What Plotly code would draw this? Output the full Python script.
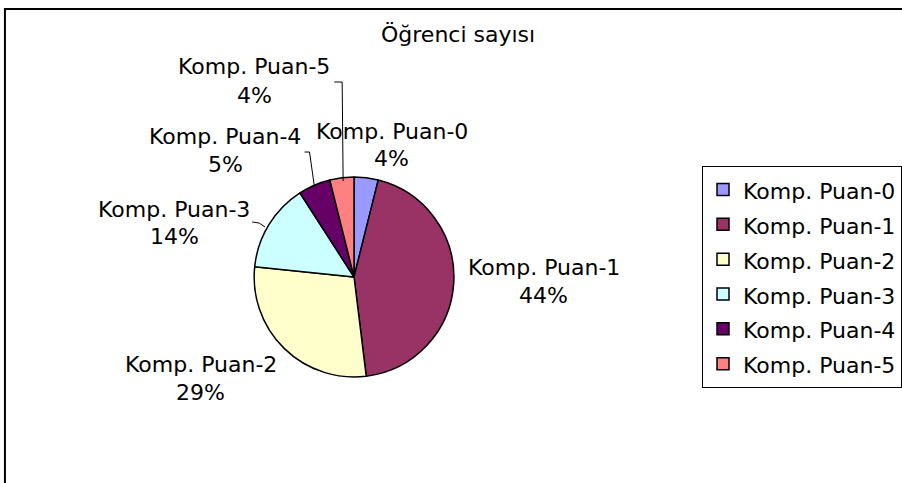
import plotly.graph_objects as go

categories = ["Komp. Puan-0", "Komp. Puan-1", "Komp. Puan-2",
              "Komp. Puan-3", "Komp. Puan-4", "Komp. Puan-5"]
counts = [3, 34, 22, 11, 4, 3]
colors = ["#9999FF", "#993366", "#FFFFCC", "#CCFFFF", "#660066", "#FF8080"]
title_text = "Öğrenci sayısı"

W, H = 902, 483
FONT = "DejaVu Sans"
FS = 22


def px(x):
    return x / W


def py(y):
    return 1 - y / H


legend_labels = [f'<span style="font-size:{FS}px">{c}</span>' for c in categories]

fig = go.Figure()
fig.add_trace(go.Pie(
    labels=legend_labels,
    values=counts,
    sort=False,
    direction="clockwise",
    rotation=0,
    marker=dict(colors=colors, line=dict(color="black", width=1.5)),
    textinfo="none",
    hoverinfo="label+percent",
    domain=dict(x=[px(257), px(459)], y=[py(378), py(176)]),
    showlegend=True,
))

# label positions (pixel centres of name line / percent line)
label_pos = [
    (396, 131, 158),
    (550, 267, 295),
    (203, 364, 392),
    (176, 209, 237),
    (228, 136, 164),
    (257, 66, 95),
]
total = sum(counts)
annotations = []
for name, v, (lx, ly1, ly2) in zip(categories, counts, label_pos):
    pct = f"{round(v / total * 100)}%"
    annotations.append(dict(x=px(lx), y=py(ly1), xref="paper", yref="paper",
                            text=name, showarrow=False, xanchor="center",
                            yanchor="middle", font=dict(family=FONT, size=FS, color="black")))
    annotations.append(dict(x=px(lx), y=py(ly2), xref="paper", yref="paper",
                            text=pct, showarrow=False, xanchor="center",
                            yanchor="middle", font=dict(family=FONT, size=FS, color="black")))
annotations.append(dict(x=px(463), y=py(35), xref="paper", yref="paper",
                        text=title_text, showarrow=False, xanchor="center",
                        yanchor="middle", font=dict(family=FONT, size=FS, color="black")))

shapes = [
    # chart border
    dict(type="rect", xref="paper", yref="paper", x0=px(5), y0=py(9), x1=px(940), y1=py(520),
         line=dict(color="black", width=2), fillcolor="rgba(0,0,0,0)"),
    # leader lines
    dict(type="path", xref="paper", yref="paper",
         path=f"M{px(338)},{py(82)} L{px(346)},{py(82)} L{px(347)},{py(181)}",
         line=dict(color="black", width=1)),
    dict(type="path", xref="paper", yref="paper",
         path=f"M{px(308)},{py(152)} L{px(313)},{py(152)} L{px(318)},{py(187)}",
         line=dict(color="black", width=1)),
    dict(type="path", xref="paper", yref="paper",
         path=f"M{px(255)},{py(222)} L{px(262)},{py(223)} L{px(268)},{py(227)}",
         line=dict(color="black", width=1)),
]

fig.update_layout(
    width=W, height=H,
    margin=dict(l=0, r=0, t=0, b=0),
    paper_bgcolor="white",
    plot_bgcolor="white",
    font=dict(family=FONT, size=FS, color="black"),
    annotations=annotations,
    shapes=shapes,
    legend=dict(
        x=px(710), y=py(166), xanchor="left", yanchor="top",
        bgcolor="white", bordercolor="black", borderwidth=1,
        font=dict(family=FONT, size=24.5, color="black"),
        traceorder="normal",
    ),
)

fig.write_html("out.html")
